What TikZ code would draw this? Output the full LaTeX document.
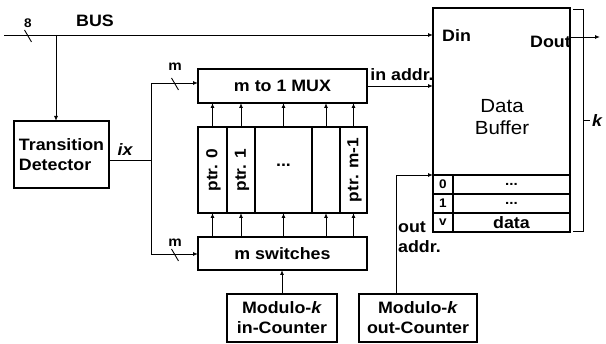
\documentclass[tikz,border=0pt]{standalone}
\usepackage{fontspec}
\setmainfont{Liberation Sans}[FakeStretch=1.08]
\usetikzlibrary{arrows.meta}
\begin{document}
\begin{tikzpicture}[x=1pt,y=-1pt,
 box/.style={draw,line width=1.6pt,inner sep=0pt,outer sep=0pt},
 cell/.style={draw,line width=1.2pt,inner sep=0pt,outer sep=0pt},
 conn/.style={line width=0.9pt},
 arr/.style={conn,-{Latex[length=5pt,width=4pt]}},
 lab/.style={font=\fontsize{16.5}{20}\selectfont\bfseries,inner sep=0pt},
 rlab/.style={font=\fontsize{16}{17}\selectfont\bfseries,inner sep=0pt,rotate=90},
 small/.style={font=\fontsize{12.5}{13}\selectfont\bfseries,inner sep=0pt},
]
\useasboundingbox (0,0) rectangle (606,344);

% boxes
\node[box,lab,align=left,minimum width=95,minimum height=67] (td) at (61.5,154.5) {Transition\\Detector};
\node[box,lab,minimum width=169,minimum height=34] (mux) at (282.5,86) {m to 1 MUX};
\node[box,minimum width=29,minimum height=86] (p0) at (212.5,170) {};
\node[box,minimum width=28,minimum height=86] (p1) at (241,170) {};
\node[box,minimum width=57,minimum height=86] (pd) at (283.5,170) {};
\node[box,minimum width=28,minimum height=86] (pe) at (326,170) {};
\node[box,minimum width=27,minimum height=86] (pm) at (353.5,170) {};
\node[rlab] at ([xshift=1pt]p0.center) {ptr. 0};
\node[rlab] at ([xshift=1pt]p1.center) {ptr. 1};
\node[lab] at (283.5,165) {...};
\node[rlab] at ([xshift=1pt]pm.center) {ptr. m-1};
\node[box,lab,minimum width=169,minimum height=33] (sw) at (282.5,253.5) {m switches};
\node[box,lab,align=center,minimum width=110,minimum height=48] (ic) at (282,318) {Modulo-\textit{k}\\in-Counter};
\node[box,lab,align=center,minimum width=118,minimum height=48] (oc) at (418,318) {Modulo-\textit{k}\\out-Counter};

% data buffer
\node[box,minimum width=137,minimum height=224] (db) at (501.5,120) {};
\node[font=\fontsize{19}{22}\selectfont,align=center,inner sep=0pt] at (502,117) {Data\\Buffer};
\node[lab,anchor=west] (din) at (442,36) {Din};
\node[lab,anchor=east] (dout) at (571,42) {Dout};
\node[cell,small,minimum width=20,minimum height=19] (c0l) at (443,184.5) {0};
\node[cell,small,minimum width=20,minimum height=19] (c1l) at (443,203.5) {1};
\node[cell,small,minimum width=20,minimum height=19] (cvl) at (443,222.5) {v};
\node[cell,small,font=\fontsize{14}{14}\selectfont\bfseries,minimum width=117,minimum height=19] (c0r) at (511.5,184.5) {...};
\node[cell,small,font=\fontsize{14}{14}\selectfont\bfseries,minimum width=117,minimum height=19] (c1r) at (511.5,203.5) {...};
\node[cell,lab,minimum width=117,minimum height=19] (cvr) at (511.5,222.5) {data};
\draw[line width=1.6pt] (db.north west) rectangle (db.south east);

% bus
\coordinate (bs) at (4,35);
\coordinate (tap) at (56,35);
\draw[arr] (bs) -- (bs -| db.west);
\draw[conn] (24.5,30) -- (31.5,42);
\node[small] at (28,23) {8};
\node[lab] at (95,21) {BUS};
\draw[arr] (tap) -- (tap |- td.north);

% ix
\coordinate (j) at (151,160);
\coordinate (jt) at (151,83);
\coordinate (jb) at (151,254);
\draw[conn] ([yshift=-5.5pt]td.east) -- (j);
\node[lab,font=\fontsize{16.5}{20}\selectfont\bfseries\itshape] at (125,150) {ix};
\draw[arr] (j) -- (jt) -- (jt -| mux.west);
\draw[arr] (j) -- (jb) -- (jb -| sw.west);
\draw[conn] (171.5,78) -- (178.5,90);
\draw[conn] (171.5,249) -- (178.5,261);
\node[small,font=\fontsize{14}{14}\selectfont\bfseries] at (175,67) {m};
\node[small,font=\fontsize{14}{14}\selectfont\bfseries] at (175,243) {m};

% columns arrows
\foreach \p in {p0,p1,pd,pe,pm}{
  \draw[arr] (\p.north) -- (\p.north |- mux.south);
  \draw[arr] (sw.north -| \p) -- (\p.south);
}

% in addr
\draw[arr] (mux.east) -- (mux.east -| db.west);
\node[lab] at (402,75) {in addr.};

% dout
\draw[arr] ([yshift=83pt]db.east) -- ++(30,0);

% counters
\draw[arr] (ic.north) -- (ic.north |- sw.south);
\draw[arr] ([xshift=-22pt]oc.north) |- (c0l.north west);
\node[lab,align=left,anchor=north west] at (398,222) {out\\addr.};

% brace k
\draw[line width=0.7pt] (573,9) -- (583,9) -- (583,231) -- (573,231);
\draw[line width=0.7pt] (583,120) -- (590,120);
\node[lab,font=\fontsize{16.5}{20}\selectfont\bfseries\itshape] at (597,121) {k};
\end{tikzpicture}
\end{document}
